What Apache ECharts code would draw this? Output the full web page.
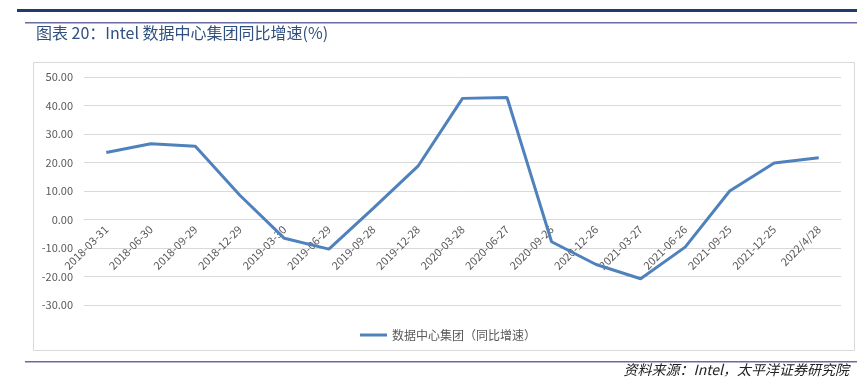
<!DOCTYPE html>
<html>
<head>
<meta charset="utf-8">
<script src="https://cdn.jsdelivr.net/npm/echarts@6/dist/echarts.min.js"></script>
<style>
  html, body { margin: 0; padding: 0; background: #fff; }
  #chart { width: 857px; height: 378px; }
</style>
</head>
<body>
<div id="chart"></div>
<script>
// Intel 数据中心集团同比增速, quarterly
const quarters = [
  "2018-03-31", "2018-06-30", "2018-09-29", "2018-12-29",
  "2019-03-30", "2019-06-29", "2019-09-28", "2019-12-28",
  "2020-03-28", "2020-06-27", "2020-09-26", "2020-12-26",
  "2021-03-27", "2021-06-26", "2021-09-25", "2021-12-25", "2022/4/28"
]
const dcgGrowth = [
  23.5, 26.6, 25.7, 8.5, -6.6, -10.4, 4.0, 18.7,
  42.5, 42.8, -7.8, -15.8, -20.8, -9.7, 10.0, 19.8, 21.7
]
const seriesName = "数据中心集团（同比增速）"
const yMin = -30
const yMax = 50
const yStep = 10

const H = 378
const gridTop = 77
const gridBottom = 73
// Excel crosses the category axis at 0, so lift the x axis up to the zero line
const plotH = H - gridTop - gridBottom
const zeroLift = ((0 - yMin) / (yMax - yMin)) * plotH

const chart = echarts.init(document.getElementById("chart"))

chart.setOption({
  animation: false,
  backgroundColor: "#fff",
  textStyle: { fontFamily: "'Noto Sans CJK SC', 'Noto Sans', sans-serif" },
  grid: { top: gridTop, bottom: gridBottom, left: 84, right: 16, containLabel: false },
  legend: {
    data: [seriesName],
    left: 355,
    top: 324,
    icon: "rect",
    itemWidth: 27,
    itemHeight: 3,
    itemGap: 3,
    textStyle: { color: "#595959", fontSize: 12 },
  },
  xAxis: {
    type: "category",
    data: quarters,
    boundaryGap: true,
    offset: -zeroLift,
    axisLine: { onZero: false, lineStyle: { color: "#d9d9d9" } },
    axisTick: { show: false },
    axisLabel: { rotate: 45, color: "#595959", fontSize: 11, margin: 8, interval: 0 },
  },
  yAxis: {
    type: "value",
    min: yMin,
    max: yMax,
    interval: yStep,
    axisLine: { show: false },
    axisTick: { show: false },
    splitLine: { lineStyle: { color: "#d9d9d9", width: 1 } },
    axisLabel: {
      color: "#595959",
      fontSize: 11,
      margin: 11,
      formatter: (v) => v.toFixed(2),
    },
  },
  series: [
    {
      name: seriesName,
      type: "line",
      data: dcgGrowth,
      symbol: "none",
      lineStyle: { color: "#4f81bd", width: 3 },
      itemStyle: { color: "#4f81bd" },
      z: 3,
    },
  ],
  graphic: [
    // page header rules
    { type: "rect", shape: { x: 17, y: 9, width: 840, height: 3 }, style: { fill: "#1f3d6b" } },
    { type: "rect", shape: { x: 25, y: 22, width: 832, height: 1.5 }, style: { fill: "#6b6ba3" } },
    {
      type: "text",
      left: 36,
      top: 25,
      style: {
        text: "图表 20：Intel 数据中心集团同比增速(%)",
        fill: "#2f4f7f",
        font: "16px 'Noto Sans CJK SC', sans-serif",
      },
    },
    // chart frame
    {
      type: "rect",
      shape: { x: 33.5, y: 62.5, width: 821, height: 288 },
      style: { fill: "none", stroke: "#d9d9d9", lineWidth: 1 },
      z: -1,
    },
    // footer rule and source
    { type: "rect", shape: { x: 25, y: 361, width: 832, height: 1.5 }, style: { fill: "#6b6ba3" } },
    {
      type: "text",
      right: 8,
      top: 363,
      style: {
        text: "资料来源：Intel，太平洋证券研究院",
        fill: "#222",
        font: "italic 14px 'Noto Sans CJK SC', sans-serif",
      },
    },
  ],
})
</script>
</body>
</html>
